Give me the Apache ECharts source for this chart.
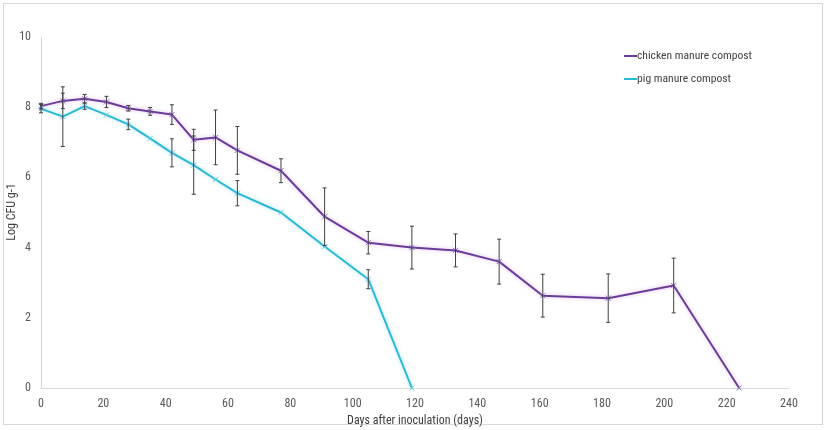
<!DOCTYPE html>
<html>
<head>
<meta charset="utf-8">
<script src="https://cdn.jsdelivr.net/npm/echarts@6/dist/echarts.min.js"></script>
<style>
html,body{margin:0;padding:0;background:#fff;}
#frame{position:absolute;left:3px;top:3px;width:818px;height:420px;border:1px solid #d9d9d9;}
#chart{position:absolute;left:0;top:0;width:828px;height:430px;}
</style>
</head>
<body>
<div id="frame"></div>
<div id="chart"></div>
<script>
const chickenDays = [0, 7, 14, 21, 28, 35, 42, 49, 56, 63, 77, 91, 105, 119, 133, 147, 161, 182, 203, 224];
const chickenValues = [8.03, 8.18, 8.24, 8.15, 7.97, 7.88, 7.79, 7.07, 7.14, 6.77, 6.19, 4.88, 4.14, 4.0, 3.92, 3.6, 2.63, 2.56, 2.92, 0];
const chickenErrors = [0.08, 0.22, 0.12, 0.16, 0.08, 0.11, 0.28, 0.3, 0.78, 0.68, 0.34, 0.82, 0.32, 0.61, 0.47, 0.64, 0.61, 0.69, 0.78, null];
const pigDays = [0, 7, 14, 21, 28, 35, 42, 49, 56, 63, 77, 91, 105, 119];
const pigValues = [7.96, 7.73, 8.03, 7.78, 7.51, 7.11, 6.7, 6.35, 5.94, 5.55, 5.0, 4.03, 3.1, 0];
const pigErrors = [0.12, 0.85, 0.09, null, 0.15, null, 0.4, 0.83, null, 0.36, null, null, 0.27, null];
const xTicks = [0, 20, 40, 60, 80, 100, 120, 140, 160, 180, 200, 220, 240];
const yTicks = [0, 2, 4, 6, 8, 10];
const yAxisTitle = 'Log CFU g-1';

const FONT = "'Roboto Condensed','DejaVu Sans Condensed',sans-serif";
const chickenColor = '#6a3d9a';
const pigColor = '#2bb7d6';

function pairs(xs, ys) { return xs.map((d, i) => [d, ys[i]]); }
function errData(xs, ys, es) {
  const out = [];
  xs.forEach((d, i) => { if (es[i] != null) out.push([d, ys[i] - es[i], ys[i] + es[i]]); });
  return out;
}
function errRender(params, api) {
  const x = api.value(0);
  const lo = api.coord([x, api.value(1)]);
  const hi = api.coord([x, api.value(2)]);
  const w = 2;
  const st = { stroke: '#3f3f3f', lineWidth: 1 };
  return {
    type: 'group',
    children: [
      { type: 'line', shape: { x1: lo[0], y1: lo[1], x2: hi[0], y2: hi[1] }, style: st },
      { type: 'line', shape: { x1: lo[0] - w, y1: lo[1], x2: lo[0] + w, y2: lo[1] }, style: st },
      { type: 'line', shape: { x1: hi[0] - w, y1: hi[1], x2: hi[0] + w, y2: hi[1] }, style: st }
    ]
  };
}
const xSym = 'path://M0,0L10,10M10,0L0,10';

const chart = echarts.init(document.getElementById('chart'), null, { renderer: 'canvas' });
chart.setOption({
  animation: false,
  backgroundColor: 'transparent',
  textStyle: { fontFamily: FONT },
  grid: { left: 41, right: 39, top: 37, bottom: 42, outerBoundsMode: 'none', containLabel: false },
  graphic: [{
    type: 'text', x: 12, y: 212, rotation: Math.PI / 2,
    style: { text: yAxisTitle, fontFamily: FONT, fontSize: 12, fill: '#404040', textAlign: 'center', textVerticalAlign: 'middle' }
  }],
  legend: {
    orient: 'vertical',
    left: 619,
    top: 45,
    itemWidth: 13,
    itemHeight: 2,
    itemGap: 11,
    icon: 'rect',
    itemStyle: { borderWidth: 0 },
    textStyle: { fontFamily: FONT, fontSize: 11.6, color: '#404040', padding: [0, 0, 0, -5] },
    data: [
      { name: 'chicken manure compost', itemStyle: { color: chickenColor, borderWidth: 0 } },
      { name: 'pig manure compost', itemStyle: { color: pigColor, borderWidth: 0 } }
    ]
  },
  xAxis: {
    type: 'value',
    min: 0, max: 240, interval: 20,
    name: 'Days after inoculation (days)',
    nameLocation: 'middle',
    nameGap: 22,
    nameTextStyle: { fontFamily: FONT, fontSize: 12, color: '#404040' },
    axisLine: { lineStyle: { color: '#d9d9d9' } },
    axisTick: { show: false },
    splitLine: { show: false },
    axisLabel: { fontFamily: FONT, fontSize: 12, color: '#595959', margin: 10,
      formatter: v => xTicks.includes(v) ? String(v) : '' }
  },
  yAxis: {
    type: 'value',
    min: 0, max: 10, interval: 2,
    axisLine: { show: true, lineStyle: { color: '#d9d9d9' } },
    axisTick: { show: false },
    splitLine: { show: false },
    axisLabel: { fontFamily: FONT, fontSize: 12, color: '#595959', margin: 10,
      formatter: v => yTicks.includes(v) ? String(v) : '' }
  },
  series: [
    {
      name: 'chicken manure compost',
      type: 'line',
      data: pairs(chickenDays, chickenValues),
      symbol: xSym, symbolSize: 5,
      itemStyle: { color: 'rgba(0,0,0,0)', borderColor: '#8a6cc0', borderWidth: 1 },
      lineStyle: { color: chickenColor, width: 2, shadowColor: 'rgba(210,160,235,0.7)', shadowBlur: 4 },
      z: 3
    },
    {
      name: 'pig manure compost',
      type: 'line',
      data: pairs(pigDays, pigValues),
      symbol: xSym, symbolSize: 5,
      itemStyle: { color: 'rgba(0,0,0,0)', borderColor: '#5ec9e0', borderWidth: 1 },
      lineStyle: { color: pigColor, width: 2, shadowColor: 'rgba(150,230,245,0.8)', shadowBlur: 4 },
      z: 3
    },
    {
      type: 'custom', name: 'chickenErr',
      data: errData(chickenDays, chickenValues, chickenErrors),
      renderItem: errRender, z: 4, silent: true
    },
    {
      type: 'custom', name: 'pigErr',
      data: errData(pigDays, pigValues, pigErrors),
      renderItem: errRender, z: 4, silent: true
    }
  ]
});
</script>
</body>
</html>
